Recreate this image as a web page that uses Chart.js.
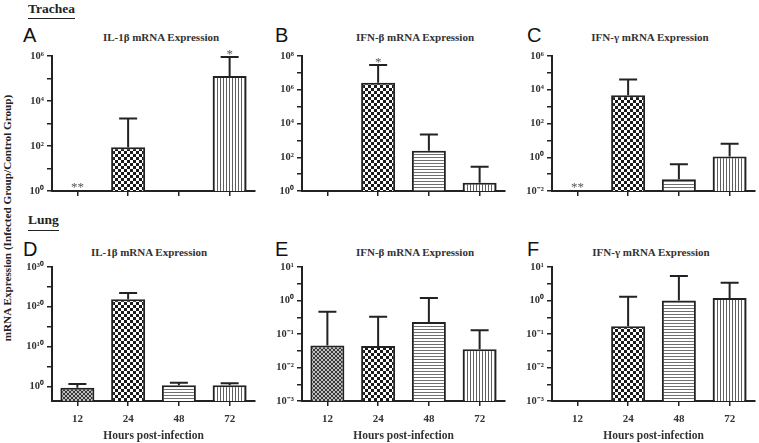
<!DOCTYPE html>
<html>
<head>
<meta charset="utf-8">
<script src="https://cdn.jsdelivr.net/npm/chart.js@4.4.1/dist/chart.umd.min.js"></script>
<style>
  body { margin: 0; width: 759px; height: 443px; overflow: hidden; background: #fff; position: relative;
         font-family: "Liberation Serif", serif; color: #222; }
  canvas { position: absolute; }
  .sec { position: absolute; font-weight: bold; font-size: 13.5px; line-height: 14px; border-bottom: 1.5px solid #222; }
  .letter { position: absolute; font-family: "Liberation Sans", sans-serif; font-size: 20px; line-height: 20px; color: #111; }
  .ttl { position: absolute; width: 200px; text-align: center; font-weight: bold; font-size: 11px; line-height: 12px; color: #333; white-space: nowrap; }
  .ylab { position: absolute; left: 7px; top: 218px; transform: translate(-50%, -50%) rotate(-90deg);
          font-weight: bold; font-size: 11.2px; white-space: nowrap; color: #222; }
</style>
</head>
<body>

<div class="sec" style="left:28px;top:2px;padding-bottom:2px">Trachea</div>
<div class="sec" style="left:28px;top:213px;padding-bottom:3px">Lung</div>
<div class="ylab">mRNA Expression (Infected Group/Control Group)</div>

<div class="letter" style="left:23px;top:25px">A</div>
<div class="letter" style="left:275px;top:25px">B</div>
<div class="letter" style="left:527px;top:25px">C</div>
<div class="letter" style="left:23px;top:239px">D</div>
<div class="letter" style="left:275px;top:239px">E</div>
<div class="letter" style="left:527px;top:239px">F</div>

<div class="ttl" style="left:61px;top:31px">IL-1β mRNA Expression</div>
<div class="ttl" style="left:315px;top:31px">IFN-β mRNA Expression</div>
<div class="ttl" style="left:550px;top:31px">IFN-γ mRNA Expression</div>
<div class="ttl" style="left:49px;top:246px">IL-1β mRNA Expression</div>
<div class="ttl" style="left:315px;top:246px">IFN-β mRNA Expression</div>
<div class="ttl" style="left:551px;top:246px">IFN-γ mRNA Expression</div>

<canvas id="chartA" width="252" height="157" style="left:7px;top:46px"></canvas>
<canvas id="chartB" width="252" height="157" style="left:257px;top:46px"></canvas>
<canvas id="chartC" width="252" height="157" style="left:507px;top:46px"></canvas>
<canvas id="chartD" width="252" height="186" style="left:7px;top:257px"></canvas>
<canvas id="chartE" width="252" height="186" style="left:257px;top:257px"></canvas>
<canvas id="chartF" width="252" height="186" style="left:507px;top:257px"></canvas>

<script>
const hours = ["12", "24", "48", "72"];

// trachea (fold change, upper error = mean + SD)
const trachIL1b = [null, 87, null, 1.3e5];
const trachIL1bErr = [null, 1660, null, 9e5];
const trachIL1bMarks = ["**", "", "", "*"];

const trachIFNb = [null, 2.6e6, 240, 3.1];
const trachIFNbErr = [null, 2.9e7, 2250, 27];
const trachIFNbMarks = ["", "*", "", ""];

const trachIFNg = [null, 4800, 0.049, 1.1];
const trachIFNgErr = [null, 4.1e4, 0.38, 6.3];
const trachIFNgMarks = ["**", "", "", ""];

// lung
const lungIL1b = [0.4, 8e21, 1.8, 1.8];
const lungIL1bErr = [4, 3e23, 8, 5.6];

const lungIFNb = [0.045, 0.044, 0.23, 0.035];
const lungIFNbErr = [0.46, 0.33, 1.18, 0.13];

const lungIFNg = [null, 0.17, 1.0, 1.18];
const lungIFNgErr = [null, 1.3, 5.4, 3.4];

// y tick positions + labels
const ticks0to6 = [1, 1e1, 1e2, 1e3, 1e4, 1e5, 1e6];
const labels0to6 = ["10⁰", "", "10²", "", "10⁴", "", "10⁶"];
const ticks0to8 = [1, 1e1, 1e2, 1e3, 1e4, 1e5, 1e6, 1e7, 1e8];
const labels0to8 = ["10⁰", "", "10²", "", "10⁴", "", "10⁶", "", "10⁸"];
const ticksM2to6 = [1e-2, 1e-1, 1, 1e1, 1e2, 1e3, 1e4, 1e5, 1e6];
const labelsM2to6 = ["10⁻²", "", "10⁰", "", "10²", "", "10⁴", "", "10⁶"];
const ticks0to30 = [1, 1e5, 1e10, 1e15, 1e20, 1e25, 1e30];
const labels0to30 = ["10⁰", "", "10¹⁰", "", "10²⁰", "", "10³⁰"];
const ticksM3to1 = [1e-3, 3.16e-3, 1e-2, 3.16e-2, 1e-1, 3.16e-1, 1, 3.16, 10];
const labelsM3to1 = ["10⁻³", "", "10⁻²", "", "10⁻¹", "", "10⁰", "", "10¹"];

const SERIF = "'Liberation Serif', serif";

const makePattern = (w, h, draw) => {
  const c = document.createElement("canvas");
  c.width = w;
  c.height = h;
  const g = c.getContext("2d");
  draw(g);
  return g.createPattern(c, "repeat");
};

// 12h fine check, 24h checkerboard, 48h horizontal, 72h vertical
const fills = [
  makePattern(4, 4, (g) => {
    g.fillStyle = "#bdbdbd"; g.fillRect(0, 0, 4, 4);
    g.fillStyle = "#3a3a3a"; g.fillRect(0, 0, 2, 2); g.fillRect(2, 2, 2, 2);
  }),
  makePattern(6, 6, (g) => {
    g.fillStyle = "#fff"; g.fillRect(0, 0, 6, 6);
    g.fillStyle = "#1a1a1a"; g.fillRect(0, 0, 3, 3); g.fillRect(3, 3, 3, 3);
  }),
  makePattern(3, 3, (g) => {
    g.fillStyle = "#fff"; g.fillRect(0, 0, 3, 3);
    g.fillStyle = "#707070"; g.fillRect(0, 0, 3, 1);
  }),
  makePattern(3, 3, (g) => {
    g.fillStyle = "#fff"; g.fillRect(0, 0, 3, 3);
    g.fillStyle = "#606060"; g.fillRect(0, 0, 1, 3);
  })
];

const errorBars = {
  id: "errorBars",
  afterDatasetsDraw(chart, args, opts) {
    const { ctx } = chart;
    const x = chart.scales.x;
    const y = chart.scales.y;
    ctx.save();
    ctx.strokeStyle = "#222";
    ctx.lineWidth = 2;
    chart.data.datasets[0].data.forEach((v, i) => {
      const e = opts.err[i];
      const px = x.getPixelForValue(i);
      if (v != null && e != null) {
        const top = y.getPixelForValue(e);
        ctx.beginPath();
        ctx.moveTo(px, y.getPixelForValue(v));
        ctx.lineTo(px, top);
        ctx.moveTo(px - 9, top);
        ctx.lineTo(px + 9, top);
        ctx.stroke();
      }
      const m = opts.marks ? opts.marks[i] : "";
      if (m) {
        ctx.fillStyle = "#555";
        ctx.font = "13px " + SERIF;
        ctx.textAlign = "center";
        ctx.textBaseline = "middle";
        const my = v == null ? y.bottom - 3 : y.getPixelForValue(e) - 2;
        ctx.fillText(m, px, my);
      }
    });
    ctx.restore();
  }
};

const makePanel = (id, values, err, marks, min, max, tickVals, tickLabels, bottomRow) => {
  new Chart(document.getElementById(id), {
    type: "bar",
    data: {
      labels: hours,
      datasets: [{
        data: values,
        backgroundColor: fills,
        borderColor: "#222",
        borderWidth: 2,
        barPercentage: 0.67,
        categoryPercentage: 1
      }]
    },
    plugins: [errorBars],
    options: {
      responsive: false,
      animation: false,
      layout: { padding: { top: 10, right: 4, left: 0, bottom: 0 } },
      plugins: {
        legend: { display: false },
        tooltip: { enabled: false },
        errorBars: { err: err, marks: marks }
      },
      scales: {
        x: {
          offset: true,
          afterFit: (s) => { s.height = bottomRow ? 42 : 12; },
          grid: { offset: false, drawOnChartArea: false, tickLength: 5, color: "#222", lineWidth: 1.5 },
          border: { color: "#222", width: 2 },
          ticks: { display: bottomRow, color: "#333", padding: 7, font: { family: SERIF, size: 11, weight: "bold" } },
          title: {
            display: bottomRow,
            text: "Hours post-infection",
            color: "#333",
            padding: 0,
            font: { family: SERIF, size: 11.5, weight: "bold" }
          }
        },
        y: {
          type: "logarithmic",
          min: min,
          max: max,
          afterBuildTicks: (s) => { s.ticks = tickVals.map((v) => ({ value: v })); },
          afterFit: (s) => { s.width = 45; },
          grid: { drawOnChartArea: false, tickLength: 5, color: "#222", lineWidth: 1.5 },
          border: { color: "#222", width: 2 },
          ticks: {
            autoSkip: false,
            padding: 3,
            color: "#333",
            font: { family: SERIF, size: 10.5, weight: "bold" },
            callback: (v, i) => tickLabels[i]
          }
        }
      }
    }
  });
};

makePanel("chartA", trachIL1b, trachIL1bErr, trachIL1bMarks, 1, 1e6, ticks0to6, labels0to6, false);
makePanel("chartB", trachIFNb, trachIFNbErr, trachIFNbMarks, 1, 1e8, ticks0to8, labels0to8, false);
makePanel("chartC", trachIFNg, trachIFNgErr, trachIFNgMarks, 1e-2, 1e6, ticksM2to6, labelsM2to6, false);
makePanel("chartD", lungIL1b, lungIL1bErr, null, 2e-4, 1e30, ticks0to30, labels0to30, true);
makePanel("chartE", lungIFNb, lungIFNbErr, null, 1e-3, 10, ticksM3to1, labelsM3to1, true);
makePanel("chartF", lungIFNg, lungIFNgErr, null, 1e-3, 10, ticksM3to1, labelsM3to1, true);
</script>
</body>
</html>
